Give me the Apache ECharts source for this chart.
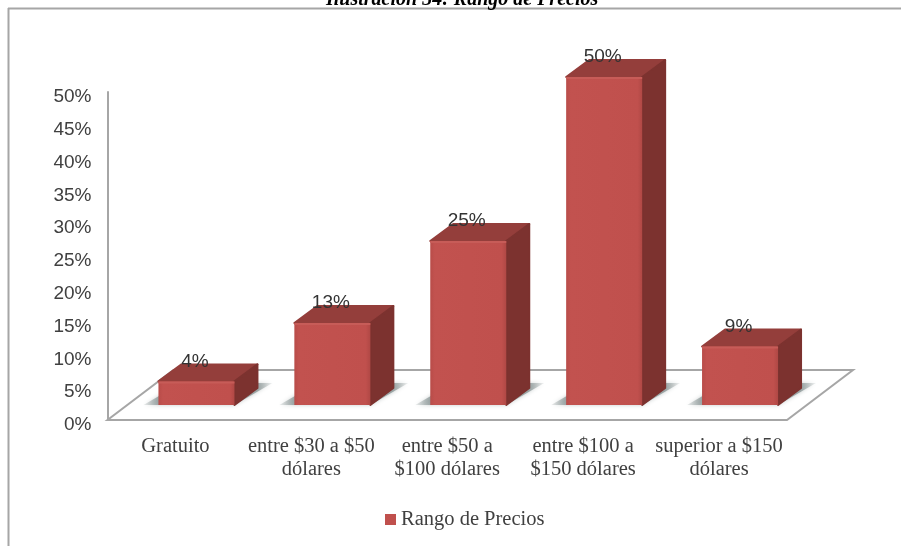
<!DOCTYPE html>
<html><head><meta charset="utf-8">
<style>html,body{margin:0;padding:0;background:#fff}#c{width:901px;height:546px}</style>
<script src="https://cdn.jsdelivr.net/npm/echarts@6/dist/echarts.min.js"></script>
</head><body><div id="c"></div>
<script>
const categories = ['Gratuito','entre $30 a $50\ndólares','entre $50 a\n$100 dólares','entre $100 a\n$150 dólares','superior a $150\ndólares'];
const values = [3.6,12.5,25,50,8.9];
const yTicks = {min:0,max:50,interval:5};
const seriesName = 'Rango de Precios';
const titleText = 'Ilustración 34: Rango de Precios';

const chart = echarts.init(document.getElementById('c'),null,{renderer:'canvas'});
const LIFT=15, BW=76, SHIFT=21, DX=23, DY=17, FX=66, FY=50;

function renderBar(params, api){
  const i=api.value(0), v=api.value(1);
  const base=api.coord([i,0]), top=api.coord([i,v]);
  const L=base[0]+SHIFT-BW/2, R=L+BW, B=base[1]-LIFT, T=top[1]-LIFT;
  const frontFill=new echarts.graphic.LinearGradient(0,0,1,0,[
    {offset:0,color:'#b84c49'},{offset:0.06,color:'#c2524f'},{offset:0.94,color:'#c0504d'},{offset:1,color:'#b04845'}]);
  const shadowFill=new echarts.graphic.LinearGradient(0,0,1,0,[
    {offset:0,color:'rgba(143,154,154,0.15)'},{offset:0.12,color:'rgba(143,154,154,0.85)'},
    {offset:0.88,color:'rgba(143,154,154,0.85)'},{offset:1,color:'rgba(143,154,154,0.1)'}]);
  return {type:'group',children:[
    {type:'polygon',shape:{points:[[L-15,B],[R,B],[R+DX+15,B-DY-5],[L+DX,B-DY-5]]},
     style:{fill:shadowFill,shadowBlur:4,shadowColor:'rgba(143,154,154,0.6)'}},
    {type:'polygon',shape:{points:[[L,T],[L+DX,T-DY],[R+DX,T-DY],[R,T]]},style:{fill:'#943e3b',stroke:'#943e3b',lineWidth:2,lineJoin:'round'}},
    {type:'polygon',shape:{points:[[R,T],[R+DX,T-DY],[R+DX,B-DY],[R,B]]},style:{fill:'#7c322f',stroke:'#7c322f',lineWidth:2,lineJoin:'round'}},
    {type:'rect',shape:{x:L,y:T,width:BW,height:B-T},style:{fill:frontFill}},
    {type:'line',shape:{x1:L,y1:T+1,x2:R,y2:T+1},style:{stroke:'#c75c58',lineWidth:2}},
    {type:'text',z2:50,style:{x:L+BW/2-1.5,y:T-20,text:Math.round(v)+'%',fill:'#333333',
      font:'19px "Liberation Sans"',align:'center',verticalAlign:'middle'}}
  ]};
}
function renderFloor(params, api){
  const c=params.coordSys, x0=c.x, x1=c.x+c.width, y=c.y+c.height;
  return {type:'polygon',shape:{points:[[x0,y],[x1,y],[x1+FX,y-FY],[x0+FX,y-FY]]},
    style:{fill:'#ffffff',stroke:'#a6a6a6',lineWidth:2}};
}
chart.setOption({
  animation:false,
  backgroundColor:'#ffffff',
  title:{text:titleText,left:321,top:-15,textStyle:{fontFamily:'Liberation Serif',fontStyle:'italic',fontWeight:'bold',fontSize:20,color:'#000'}},
  grid:{left:107.5,right:114,top:92,bottom:126,containLabel:false},
  legend:{data:[seriesName],left:380,top:504,icon:'rect',itemWidth:11,itemHeight:11,itemGap:3,
    textStyle:{fontFamily:'Liberation Serif',fontSize:20.5,color:'#404040'}},
  xAxis:{type:'category',data:categories,axisLine:{show:false},axisTick:{show:false},splitLine:{show:false},
    axisLabel:{fontFamily:'Liberation Serif',fontSize:20.5,lineHeight:23,color:'#404040',margin:15,interval:0}},
  yAxis:{type:'value',min:yTicks.min,max:yTicks.max,interval:yTicks.interval,splitLine:{show:false},axisTick:{show:false},
    axisLine:{show:true,lineStyle:{color:'#a6a6a6',width:2}},
    axisLabel:{fontFamily:'Liberation Sans',fontSize:19,color:'#404040',margin:16,verticalAlign:'top',lineHeight:10,formatter:'{value}%'}},
  graphic:[
    {type:'line',silent:true,shape:{x1:8,y1:8.5,x2:901,y2:8.5},style:{stroke:'#a6a6a6',lineWidth:2}},
    {type:'line',silent:true,shape:{x1:8.5,y1:8,x2:8.5,y2:546},style:{stroke:'#a6a6a6',lineWidth:2}}
  ],
  series:[
    {type:'custom',name:'suelo',renderItem:renderFloor,data:[[0,0]],z:1,silent:true,clip:false},
    {type:'custom',name:seriesName,renderItem:renderBar,itemStyle:{color:'#c0504d'},clip:false,z:2,
     encode:{x:0,y:1},data:values.map((v,i)=>[i,v])}
  ]
});
</script></body></html>
